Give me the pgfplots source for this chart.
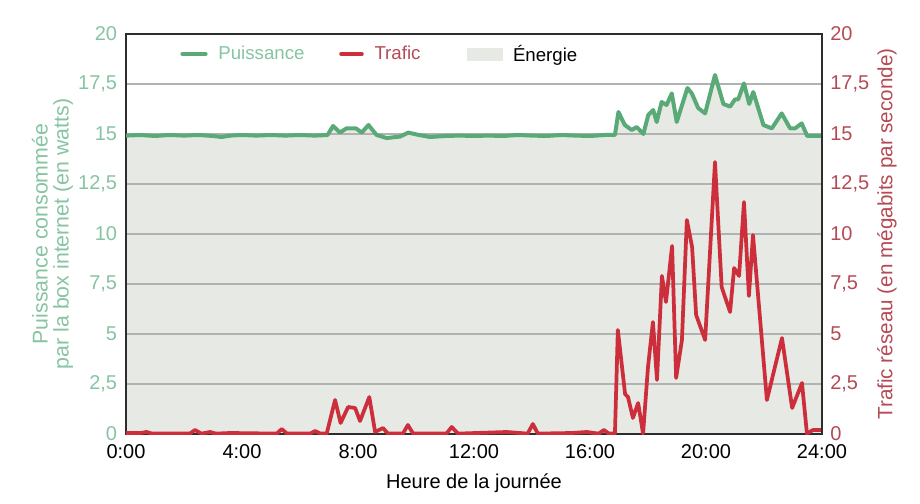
\documentclass[border=0pt]{standalone}
\usepackage{pgfplots}
\pgfplotsset{compat=1.18}
\usepackage{pgfplotstable}
\usepackage{fontspec}
\setmainfont{Liberation Sans}
\definecolor{pgreen}{RGB}{90,170,120}
\definecolor{plabel}{RGB}{134,196,162}
\definecolor{pred}{RGB}{204,46,60}
\definecolor{rlabel}{RGB}{181,74,85}
\definecolor{efill}{RGB}{231,234,228}
\definecolor{gridc}{RGB}{178,178,178}
\definecolor{framec}{RGB}{45,45,45}

\pgfplotstableread{
h p
0 14.92
0.5 14.95
1 14.9
1.5 14.95
2 14.92
2.5 14.95
3 14.9
3.3 14.85
3.6 14.92
4 14.95
4.5 14.92
5 14.95
5.5 14.92
6 14.95
6.5 14.92
6.95 14.95
7.14 15.4
7.38 15.07
7.6 15.28
7.93 15.28
8.13 15.07
8.36 15.45
8.64 14.95
8.99 14.8
9.45 14.87
9.73 15.07
10.1 14.95
10.48 14.85
11 14.9
11.5 14.92
12 14.9
12.5 14.92
13 14.9
13.5 14.95
14 14.92
14.5 14.9
15 14.95
15.5 14.92
16 14.9
16.5 14.95
16.86 14.95
16.98 16.1
17.2 15.45
17.44 15.2
17.61 15.35
17.84 15.0
18.01 15.95
18.18 16.2
18.3 15.6
18.47 16.6
18.64 16.45
18.82 17.03
18.99 15.6
19.36 17.3
19.51 17.03
19.73 16.3
19.97 16.03
20.31 17.95
20.6 16.5
20.83 16.37
21.0 16.73
21.11 16.73
21.31 17.53
21.49 16.5
21.63 17.1
21.98 15.45
22.27 15.28
22.61 16.03
22.9 15.28
23.07 15.28
23.3 15.53
23.49 14.9
24 14.9
}\puissance

\pgfplotstableread{
h t
0 0.05
0.5 0.05
0.71 0.1
0.9 0.02
2.2 0.02
2.38 0.2
2.6 0.02
2.9 0.1
3.1 0.02
3.59 0.05
5.2 0.02
5.37 0.25
5.55 0.02
6.35 0.02
6.52 0.15
6.7 0.02
6.92 0.02
7.21 1.7
7.4 0.55
7.66 1.35
7.9 1.3
8.07 0.65
8.39 1.85
8.59 0.1
8.86 0.3
9.03 0.02
9.55 0.02
9.72 0.45
9.9 0.02
11.05 0.02
11.23 0.35
11.45 0.02
13.13 0.1
13.85 0.02
14.03 0.5
14.2 0.02
15.37 0.05
15.89 0.1
16.3 0.02
16.48 0.2
16.65 0.02
16.86 0.02
16.96 5.2
17.21 2.0
17.31 1.85
17.48 0.8
17.66 1.55
17.83 0.02
18.0 3.35
18.17 5.6
18.31 2.7
18.48 7.9
18.62 6.6
18.83 9.4
18.97 2.8
19.17 4.7
19.34 10.7
19.52 9.35
19.66 5.95
19.97 4.7
20.31 13.6
20.54 7.35
20.83 6.1
20.97 8.3
21.14 7.9
21.31 11.6
21.48 6.9
21.62 9.95
22.1 1.7
22.62 4.8
22.97 1.3
23.31 2.55
23.48 0.02
23.69 0.2
24 0.2
}\trafic

\begin{document}
\begin{tikzpicture}
\useasboundingbox (0pt,0pt) rectangle (690pt,377.25pt);
\pgfplotsset{
  base/.style={
    at={(94.5pt,51.75pt)}, anchor=south west,
    scale only axis, width=522pt, height=300pt,
    xmin=0, xmax=24, ymin=0, ymax=20,
    major tick length=0pt,
  }
}
% energy fill
\begin{axis}[base, hide axis]
\addplot[draw=none, fill=efill] table[x=h,y=p] {\puissance} \closedcycle;
\end{axis}
% main axis
\begin{axis}[base,
  axis line style={draw=framec, line width=1.1pt},
  ymajorgrids, major grid style={draw=gridc, line width=0.9pt},
  xtick={0,4,8,12,16,20,24},
  xticklabels={0:00,4:00,8:00,12:00,16:00,20:00,24:00},
  ytick={0,2.5,5,7.5,10,12.5,15,17.5,20},
  /pgf/number format/assume math mode=true,
  /pgf/number format/use comma,
  yticklabel style={font=\fontsize{15}{18}\selectfont, text=plabel, inner sep=0pt, anchor=east, xshift=-6.5pt},
  xticklabel style={font=\fontsize{15}{18}\selectfont, text=black, inner sep=0pt, anchor=north, yshift=-8pt},
  xlabel={Heure de la journée},
  xlabel style={at={(axis description cs:0.5,0)}, anchor=base, yshift=-40.5pt, font=\fontsize{15}{18}\selectfont},
  ylabel={Puissance consommée\\par la box internet (en watts)},
  ylabel style={at={(axis description cs:-0.1056,0.5)}, anchor=center, align=center, text=plabel, font=\fontsize{16}{15.75}\selectfont},
  legend columns=3,
  legend style={draw=none, fill=none, at={(axis description cs:0.072,0.95)}, anchor=west, font=\fontsize{14}{16}\selectfont,
    /tikz/every odd column/.append style={column sep=6pt},
    /tikz/every even column/.append style={column sep=24pt}},
  legend cell align=left,
]
\addplot[pgreen, line width=3pt, line join=round, forget plot] table[x=h,y=p] {\puissance};
\addplot[pred, line width=2.8pt, line join=round, forget plot] table[x=h,y=t] {\trafic};
\addlegendimage{legend image code/.code={\draw[pgreen, line width=3.5pt, line cap=round] (0pt,0pt) -- (17pt,0pt);}}
\addlegendentry{\textcolor{plabel}{Puissance}}
\addlegendimage{legend image code/.code={\draw[pred, line width=3.5pt, line cap=round] (0pt,0pt) -- (15pt,0pt);}}
\addlegendentry{\textcolor{rlabel}{Trafic}}
\addlegendimage{legend image code/.code={\path (-1pt,0pt); \fill[efill] (8pt,-4.5pt) rectangle (34pt,4.5pt);}}
\addlegendentry{Énergie}
\end{axis}
% right axis
\begin{axis}[base,
  axis x line=none, axis y line*=right,
  axis line style={draw=framec, line width=1.1pt},
  ytick={0,2.5,5,7.5,10,12.5,15,17.5,20},
  /pgf/number format/assume math mode=true,
  /pgf/number format/use comma,
  yticklabel style={font=\fontsize{15}{18}\selectfont, text=rlabel, inner sep=0pt, anchor=west, xshift=6pt},
  ylabel={Trafic réseau (en mégabits par seconde)},
  ylabel style={at={(axis description cs:1.0934,0.5)}, anchor=center, text=rlabel, font=\fontsize{15.5}{18}\selectfont, rotate=0},
]
\addplot[draw=none] coordinates {(0,0)};
\end{axis}
\end{tikzpicture}
\end{document}
